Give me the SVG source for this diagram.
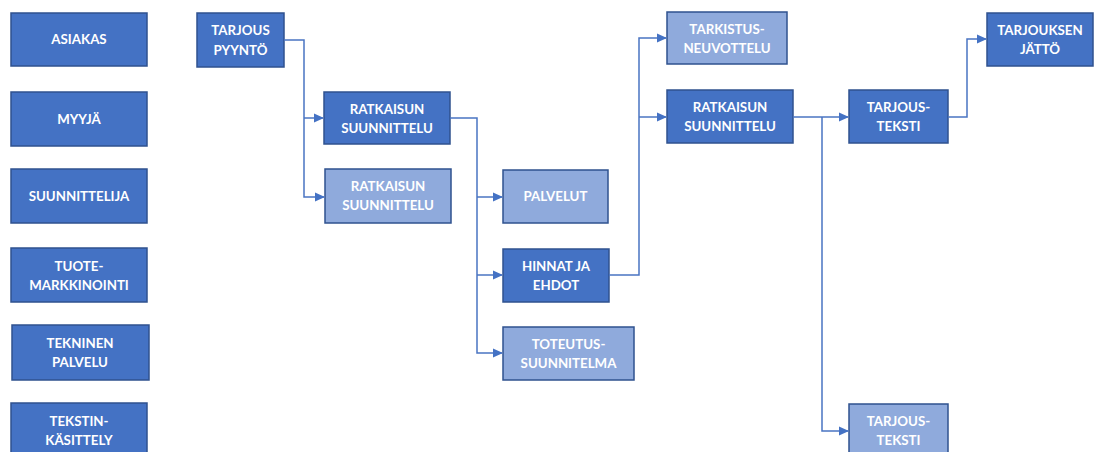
<svg xmlns="http://www.w3.org/2000/svg" width="1100" height="452" viewBox="0 0 1100 452">
  <style>
    .box { stroke: #2F528F; stroke-width: 1.5; }
    .dark { fill: #4472C4; }
    .light { fill: #8FAADC; }
    .lbl { font-family: Lato, "Liberation Sans", sans-serif; font-weight: bold; font-size: 13.3px; fill: #FFFFFF; text-anchor: middle; }
    .conn { fill: none; stroke: #4A74C2; stroke-width: 1.5; }
  </style>
  <defs>
    <marker id="arrow" markerWidth="10" markerHeight="10" refX="9" refY="5" orient="auto" markerUnits="userSpaceOnUse">
      <path d="M0,0.5 L10,5 L0,9.5 Z" fill="#4472C4"/>
    </marker>
  </defs>
  <rect width="1100" height="452" fill="#FFFFFF"/>

  <!-- role column -->
  <g id="asiakas"><rect class="box dark" x="11" y="13" width="136" height="53"/><text class="lbl" x="79" y="44">ASIAKAS</text></g>
  <g id="myyja"><rect class="box dark" x="11" y="92" width="136" height="54"/><text class="lbl" x="79" y="124">MYYJÄ</text></g>
  <g id="suunnittelija"><rect class="box dark" x="11" y="169" width="136" height="54"/><text class="lbl" x="79" y="201">SUUNNITTELIJA</text></g>
  <g id="tuotemarkkinointi"><rect class="box dark" x="11" y="248" width="136" height="54"/><text class="lbl" x="79" y="271">TUOTE-</text><text class="lbl" x="79" y="290">MARKKINOINTI</text></g>
  <g id="tekninen-palvelu"><rect class="box dark" x="12" y="325" width="137" height="55"/><text class="lbl" x="80" y="348">TEKNINEN</text><text class="lbl" x="80" y="367">PALVELU</text></g>
  <g id="tekstinkasittely"><rect class="box dark" x="11" y="403" width="136" height="54"/><text class="lbl" x="79" y="426">TEKSTIN-</text><text class="lbl" x="79" y="445">KÄSITTELY</text></g>

  <!-- process nodes -->
  <g id="tarjouspyynto"><rect class="box dark" x="197" y="13" width="87" height="54"/><text class="lbl" x="240.5" y="35">TARJOUS</text><text class="lbl" x="240.5" y="55">PYYNTÖ</text></g>
  <g id="ratkaisu1"><rect class="box dark" x="324" y="92" width="126" height="52"/><text class="lbl" x="387" y="114">RATKAISUN</text><text class="lbl" x="387" y="133">SUUNNITTELU</text></g>
  <g id="ratkaisu2"><rect class="box light" x="325" y="169" width="126" height="54"/><text class="lbl" x="388" y="191">RATKAISUN</text><text class="lbl" x="388" y="210">SUUNNITTELU</text></g>
  <g id="palvelut"><rect class="box light" x="503" y="170" width="105" height="53"/><text class="lbl" x="555.5" y="201">PALVELUT</text></g>
  <g id="hinnat"><rect class="box dark" x="503" y="249" width="106" height="53"/><text class="lbl" x="556" y="271">HINNAT JA</text><text class="lbl" x="556" y="290">EHDOT</text></g>
  <g id="toteutus"><rect class="box light" x="503" y="327" width="131" height="53"/><text class="lbl" x="568.5" y="349">TOTEUTUS-</text><text class="lbl" x="568.5" y="368">SUUNNITELMA</text></g>
  <g id="tarkistus"><rect class="box light" x="667" y="12" width="120" height="52"/><text class="lbl" x="727" y="34">TARKISTUS-</text><text class="lbl" x="727" y="53">NEUVOTTELU</text></g>
  <g id="ratkaisu3"><rect class="box dark" x="667" y="90" width="126" height="53"/><text class="lbl" x="730" y="112">RATKAISUN</text><text class="lbl" x="730" y="131">SUUNNITTELU</text></g>
  <g id="tarjousteksti1"><rect class="box dark" x="849" y="90" width="99" height="53"/><text class="lbl" x="898.5" y="112">TARJOUS-</text><text class="lbl" x="898.5" y="131">TEKSTI</text></g>
  <g id="tarjousteksti2"><rect class="box light" x="849" y="404" width="99" height="54"/><text class="lbl" x="898.5" y="426">TARJOUS-</text><text class="lbl" x="898.5" y="445">TEKSTI</text></g>
  <g id="jatto"><rect class="box dark" x="987" y="13" width="106" height="53"/><text class="lbl" x="1040" y="35">TARJOUKSEN</text><text class="lbl" x="1040" y="54">JÄTTÖ</text></g>

  <!-- connectors -->
  <g id="connectors">
    <path class="conn" d="M284,40 H304 V197 H324" marker-end="url(#arrow)"/>
    <path class="conn" d="M304,118 H323" marker-end="url(#arrow)"/>
    <path class="conn" d="M450,118 H477 V353 H502" marker-end="url(#arrow)"/>
    <path class="conn" d="M477,197 H502" marker-end="url(#arrow)"/>
    <path class="conn" d="M477,275 H502" marker-end="url(#arrow)"/>
    <path class="conn" d="M609,275 H639 V38 H666" marker-end="url(#arrow)"/>
    <path class="conn" d="M639,117 H666" marker-end="url(#arrow)"/>
    <path class="conn" d="M793,117 H848" marker-end="url(#arrow)"/>
    <path class="conn" d="M822,117 V431 H848" marker-end="url(#arrow)"/>
    <path class="conn" d="M948,117 H967 V39 H986" marker-end="url(#arrow)"/>
  </g>
</svg>
